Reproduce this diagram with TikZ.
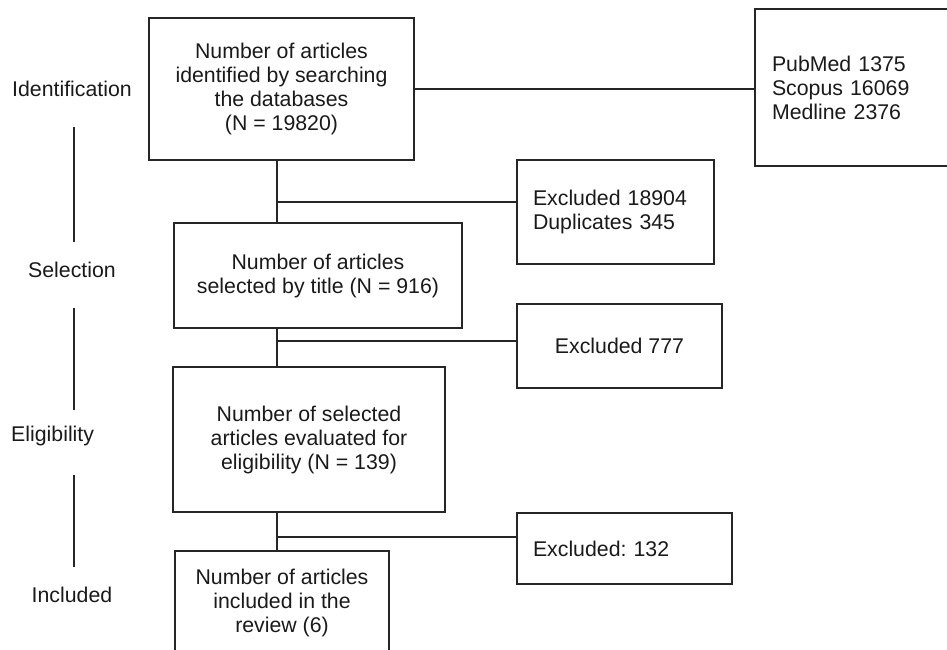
\documentclass[tikz,border=0pt]{standalone}
\usepackage{fontspec}
\setmainfont{Liberation Sans}
\frenchspacing
\definecolor{linecol}{HTML}{262626}
\definecolor{txtcol}{HTML}{1A1A1A}
\begin{document}
\frenchspacing
\begin{tikzpicture}[x=1pt,y=-1pt,
  every node/.style={text=txtcol, font=\fontsize{21.3}{24}\selectfont},
  box/.style={draw=linecol, line width=1.6pt, inner sep=0pt, align=center},
  lbox/.style={draw=linecol, line width=1.6pt, inner ysep=0pt, inner xsep=16pt, align=left},
  conn/.style={draw=linecol, line width=1.6pt},
  lab/.style={inner sep=0pt}
]
\useasboundingbox (0,0) rectangle (947,649);
\fill[white] (0,0) rectangle (947,649);

% main boxes
\node[box, minimum width=265pt, minimum height=142pt] (b1) at (281.5,89)
  {Number of articles\\identified by searching\\the databases\\(N = 19820)};
\node[box, minimum width=288pt, minimum height=105pt] (b2) at (318,275.5)
  {Number of articles\\selected by title (N = 916)};
\node[box, minimum width=272pt, minimum height=145pt] (b3) at (309,439.5)
  {Number of selected\\articles evaluated for\\eligibility (N = 139)};
\node[box, minimum width=214pt, minimum height=104pt] (b4) at (282,603)
  {Number of articles\\included in the\\review (6)};

% side boxes
\node[lbox, inner xsep=17pt, text width=161pt, minimum height=157pt] (p) at (852.5,87.5)
  {PubMed 1375\\Scopus 16069\\Medline 2376};
\node[lbox, text width=165pt, minimum height=104pt] (e1) at (615.5,212)
  {Excluded 18904\\Duplicates 345};
\node[box, minimum width=205pt, minimum height=84pt] (e2) at (619.5,346)
  {Excluded 777};
\node[lbox, text width=183pt, minimum height=71pt] (e3) at (624.5,548.5)
  {Excluded: 132};

% trunk coordinates
\coordinate (t1) at (277,202);
\coordinate (t2) at (277,341);
\coordinate (t3) at (277,537);

\draw[conn] (b1.east) -- (b1.east -| p.west);
\draw[conn] (b1.south -| t1) -- (b2.north -| t1);
\draw[conn] (t1) -- (t1 -| e1.west);
\draw[conn] (b2.south -| t2) -- (b3.north -| t2);
\draw[conn] (t2) -- (t2 -| e2.west);
\draw[conn] (b3.south -| t3) -- (b4.north -| t3);
\draw[conn] (t3) -- (t3 -| e3.west);

% stage labels
\node[lab] (l1) at (72,89) {Identification};
\node[lab] (l2) at (72,270) {Selection};
\node[lab, anchor=west] (l3) at (11,436) {Eligibility};
\node[lab] (l4) at (72,595) {Included};

\coordinate (s1a) at (74,127); \coordinate (s1b) at (74,242);
\coordinate (s2a) at (74,308); \coordinate (s2b) at (74,410);
\coordinate (s3a) at (74,475); \coordinate (s3b) at (74,567);
\draw[conn] (s1a) -- (s1b);
\draw[conn] (s2a) -- (s2b);
\draw[conn] (s3a) -- (s3b);
\end{tikzpicture}
\end{document}
